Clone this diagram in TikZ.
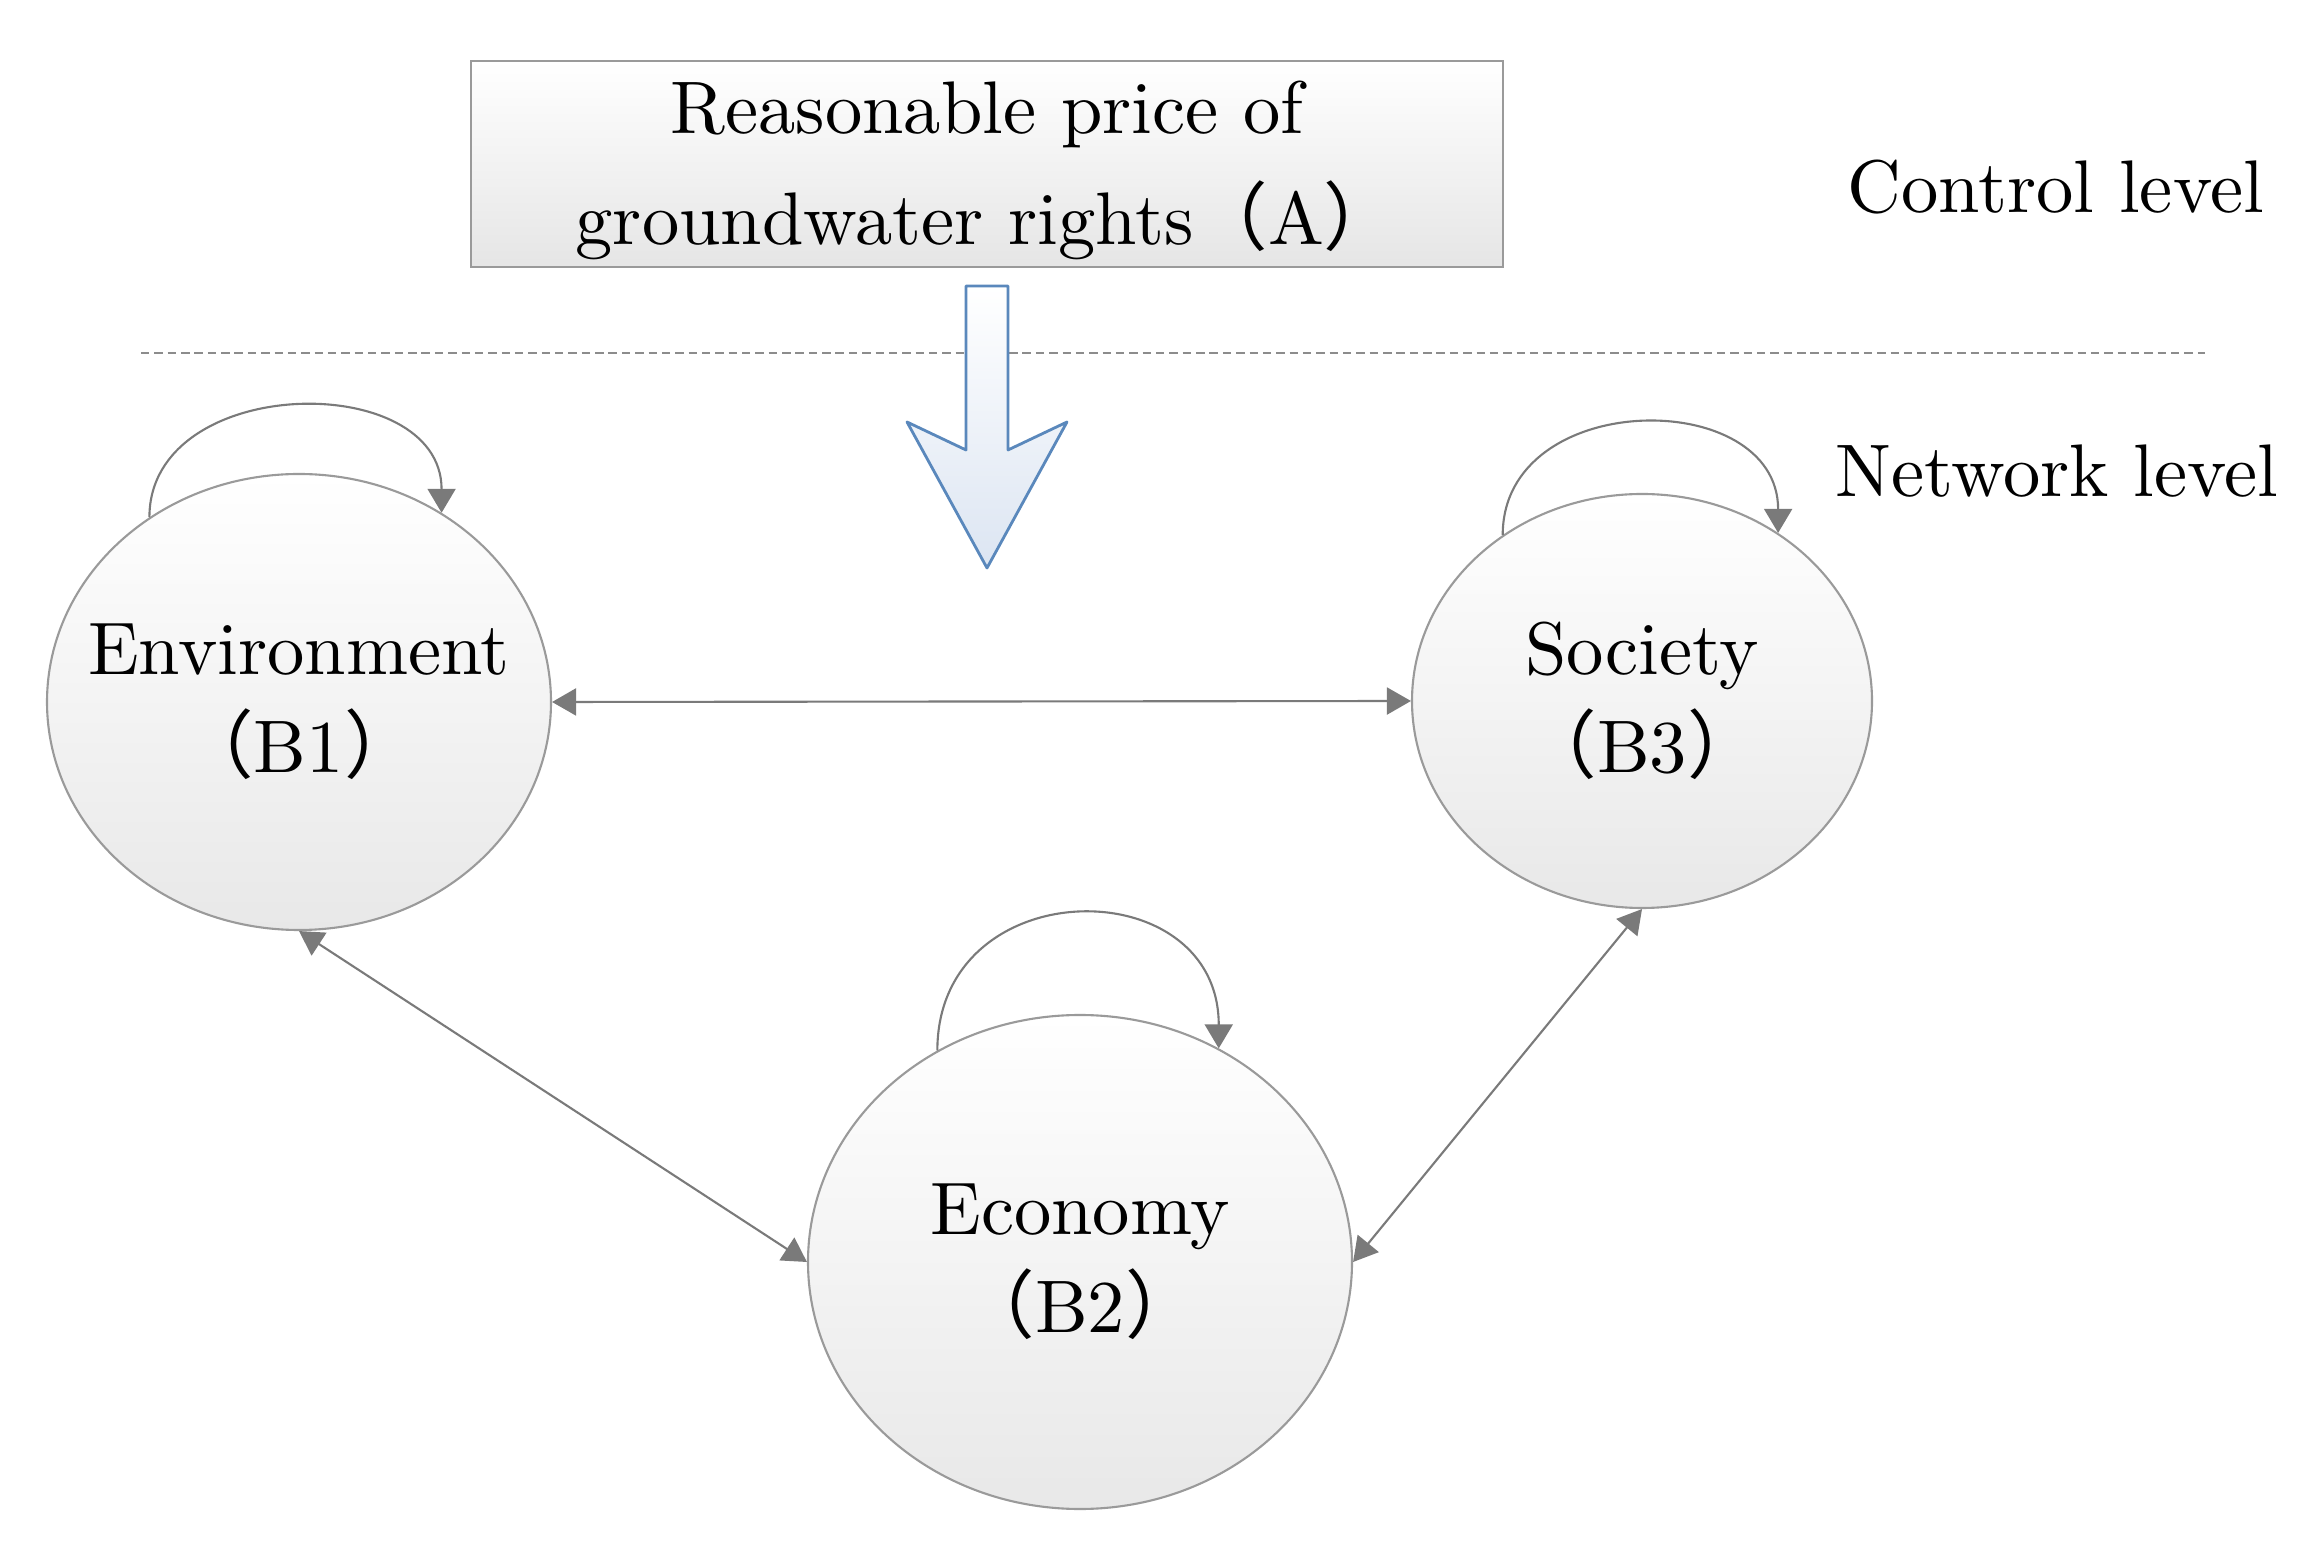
\documentclass[tikz,border=0pt]{standalone}
\usepackage{fontspec}
\setmainfont{lmroman10-regular.otf}
\newfontfamily\cjk{Noto Sans CJK SC}
\usetikzlibrary{shapes.geometric,arrows.meta}
% full width brackets
\newcommand{\fwl}{{\cjk （}}
\newcommand{\fwr}{{\cjk ）}}
\definecolor{linegray}{HTML}{7A7A7A}
\definecolor{ringgray}{HTML}{9A9A9A}
\definecolor{arrowblue}{HTML}{5A88BC}
\definecolor{paleblue}{HTML}{DCE5F2}
\begin{document}
\begin{tikzpicture}[
  every node/.style={font=\fontsize{21.2pt}{31.6pt}\selectfont},
  goalbox/.style={draw=ringgray, line width=0.6pt, top color=white, bottom color=black!10,
    minimum width=10.32cm, minimum height=2.06cm, inner sep=0pt},
  factor/.style={ellipse, draw=ringgray, line width=0.6pt, top color=white, bottom color=black!9, inner sep=0pt},
  inside/.style={align=center, font=\fontsize{21.2pt}{28pt}\selectfont},
  link/.style={draw=linegray, line width=0.6pt,
    {Triangle[length=2.4mm,width=2.7mm]}-{Triangle[length=2.4mm,width=2.7mm]}},
  selfloop/.style={draw=linegray, line width=0.6pt, -{Triangle[length=2.4mm,width=2.8mm]}},
  bigarrow/.style={draw=arrowblue, line width=0.8pt, line join=round, top color=white, bottom color=paleblue},
  divider/.style={draw=black!45, line width=0.4pt, dash pattern=on 2.4pt off 1.4pt}
]
\useasboundingbox (0,0) rectangle (23.24,-15.60);

% control level
\node[goalbox, label={[inside, font=\fontsize{21.2pt}{31.6pt}\selectfont, yshift=-0.6mm]center:Reasonable price of\\groundwater rights\fwl A\fwr}]
  (goal) at (9.87,-1.64) {};
\node (ctrl) at (20.56,-1.87) {Control level};
\draw[divider] (1.41,-3.53) -- (22.05,-3.53);
\draw[bigarrow] (9.66,-2.86) -- (10.08,-2.86) -- (10.08,-4.50) -- (10.67,-4.22) -- (9.87,-5.68)
  -- (9.07,-4.22) -- (9.66,-4.50) -- cycle;

% network level
\node (net) at (20.57,-4.71) {Network level};
\node[factor, minimum width=5.04cm, minimum height=4.56cm,
  label={[inside]center:Environment\\\fwl B1\fwr}] (env) at (2.99,-7.02) {};
\node[factor, minimum width=4.60cm, minimum height=4.14cm,
  label={[inside]center:Society\\\fwl B3\fwr}] (soc) at (16.42,-7.01) {};
\node[factor, minimum width=5.44cm, minimum height=4.94cm,
  label={[inside]center:Economy\\\fwl B2\fwr}] (eco) at (10.80,-12.62) {};

% interactions
\draw[link] (env.east) -- (soc.west);
\draw[link] (env.south) -- (eco.west);
\draw[link] (soc.south) -- (eco.east);

% inner dependence
\draw[selfloop] (env.129) .. controls +(0,1.44) and +(0,1.44) .. (env.53);
\draw[selfloop] (soc.130) .. controls +(0,1.47) and +(0,1.47) .. (soc.51);
\draw[selfloop] (eco.124) .. controls +(0,1.80) and +(0,1.80) .. (eco.57);
\end{tikzpicture}
\end{document}
